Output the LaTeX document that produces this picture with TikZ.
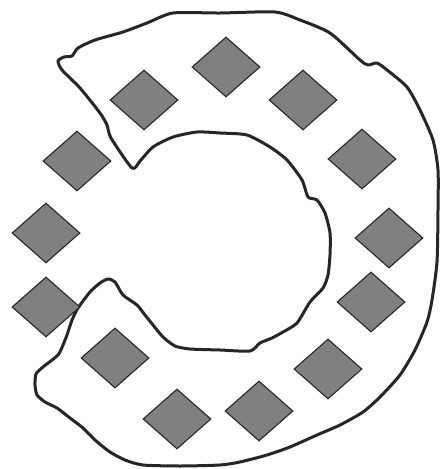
\documentclass[tikz,border=0pt]{standalone}
\usetikzlibrary{shapes.geometric}
\begin{document}
\begin{tikzpicture}[x=1pt,y=-1pt,
  outline/.style={line width=3pt,color=black!85,line join=round},
  tile/.style={shape=diamond,draw=black!85,fill=black!50,line width=1.1pt,
    minimum width=68pt,minimum height=60pt,inner sep=0pt,aspect=1.13}]
\useasboundingbox (0,0) rectangle (440,469);
\draw[outline] plot[smooth cycle,tension=0.4] coordinates {
 (132,168) (111,138) (107,125) (100,113) (80,88) (62,70) (58,61) (64,57) (72,56)
 (78,48) (95,40) (123,32) (147,23) (173,13) (220,13) (275,12) (300,20)
 (330,33) (360,60) (368,65) (377,63) (387,70) (407,87) (420,110) (433,140)
 (438,170) (438,210) (437,262) (432,300) (427,322) (415,350) (400,375)
 (380,397) (363,412) (340,425) (317,435) (290,447) (267,455) (240,462)
 (220,465) (180,466) (143,465) (125,460) (110,452) (95,440) (83,428)
 (70,418) (57,408) (45,402) (37,395) (35,385) (36,374) (43,367) (58,355)
 (63,345) (67,335) (72,320) (78,308) (90,292) (100,283) (108,279) (115,282)
 (123,295) (137,305) (145,315) (153,325) (163,337) (175,346) (190,349)
 (220,350) (250,351) (260,343) (272,338) (283,332) (297,323) (310,302)
 (323,288) (328,275) (330,255) (330,233) (325,213) (317,200) (308,197)
 (302,180) (287,160) (270,147) (247,135) (220,133) (197,132) (173,137)
 (153,147) (140,161)};
\node[tile] (d1) at (144,100) {};
\node[tile] (d2) at (226,67) {};
\node[tile] (d3) at (303,100) {};
\node[tile] (d4) at (362,159) {};
\node[tile] (d5) at (389,238) {};
\node[tile] (d6) at (371,302) {};
\node[tile] (d7) at (328,369) {};
\node[tile] (d8) at (259,411) {};
\node[tile] (d9) at (177,419) {};
\node[tile] (d10) at (115,358) {};
\node[tile] (d11) at (46,307) {};
\node[tile] (d12) at (46,233) {};
\node[tile] (d13) at (77,161) {};
\end{tikzpicture}
\end{document}
